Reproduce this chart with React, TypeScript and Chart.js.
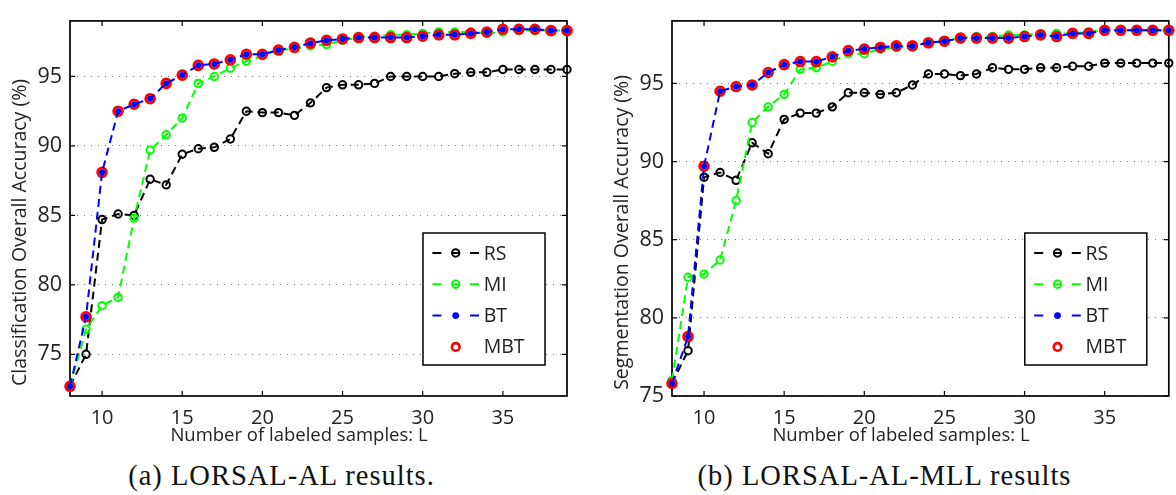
import { useEffect, useRef } from "react";
import { Chart, registerables } from "chart.js";

Chart.register(...registerables);

// ---------- data ----------
const samples = [8, 9, 10, 11, 12, 13, 14, 15, 16, 17, 18, 19, 20, 21, 22, 23, 24, 25, 26, 27, 28, 29, 30, 31, 32, 33, 34, 35, 36, 37, 38, 39];

// (a) LORSAL-AL: classification overall accuracy (%)
const alRS = [72.7, 75.0, 84.7, 85.1, 85.0, 87.6, 87.2, 89.4, 89.8, 89.9, 90.5, 92.5, 92.4, 92.4, 92.2, 93.1, 94.2, 94.4, 94.4, 94.5, 95.0, 95.0, 95.0, 95.0, 95.2, 95.3, 95.3, 95.5, 95.5, 95.5, 95.5, 95.5];
const alMI = [72.7, 76.8, 78.5, 79.1, 84.8, 89.7, 90.8, 92.0, 94.5, 95.0, 95.6, 96.1, 96.5, 96.9, 97.0, 97.2, 97.3, 97.6, 97.8, 97.9, 98.0, 98.0, 98.1, 98.2, 98.2, 98.2, 98.1, 98.2, 98.3, 98.3, 98.3, 98.3];
const alBT = [72.7, 77.7, 88.1, 92.5, 93.0, 93.4, 94.5, 95.1, 95.8, 95.9, 96.2, 96.6, 96.6, 96.9, 97.1, 97.4, 97.6, 97.7, 97.8, 97.8, 97.8, 97.8, 97.9, 98.0, 98.0, 98.1, 98.2, 98.4, 98.4, 98.4, 98.3, 98.3];
const alMBT = [72.7, 77.7, 88.1, 92.5, 93.0, 93.4, 94.5, 95.1, 95.8, 95.9, 96.2, 96.6, 96.6, 96.9, 97.1, 97.4, 97.6, 97.7, 97.8, 97.8, 97.8, 97.8, 97.9, 98.0, 98.0, 98.1, 98.2, 98.4, 98.4, 98.4, 98.3, 98.3];

// (b) LORSAL-AL-MLL: segmentation overall accuracy (%)
const mllRS = [75.8, 77.9, 89.0, 89.3, 88.8, 91.2, 90.5, 92.7, 93.1, 93.1, 93.5, 94.4, 94.4, 94.3, 94.4, 94.9, 95.6, 95.6, 95.5, 95.6, 96.0, 95.9, 95.9, 96.0, 96.0, 96.1, 96.1, 96.3, 96.3, 96.3, 96.3, 96.3];
const mllMI = [76.0, 82.6, 82.8, 83.7, 87.5, 92.5, 93.5, 94.3, 95.9, 96.0, 96.4, 96.9, 96.9, 97.2, 97.3, 97.4, 97.6, 97.7, 97.9, 98.0, 98.0, 98.1, 98.1, 98.2, 98.2, 98.2, 98.3, 98.4, 98.4, 98.4, 98.4, 98.4];
const mllBT = [75.8, 78.8, 89.7, 94.5, 94.8, 94.9, 95.7, 96.2, 96.4, 96.4, 96.7, 97.1, 97.2, 97.3, 97.4, 97.4, 97.6, 97.7, 97.9, 97.9, 97.9, 97.9, 98.0, 98.1, 98.0, 98.2, 98.2, 98.4, 98.4, 98.4, 98.4, 98.4];
const mllMBT = [75.8, 78.8, 89.7, 94.5, 94.8, 94.9, 95.7, 96.2, 96.4, 96.4, 96.7, 97.1, 97.2, 97.3, 97.4, 97.4, 97.6, 97.7, 97.9, 97.9, 97.9, 97.9, 98.0, 98.1, 98.0, 98.2, 98.2, 98.4, 98.4, 98.4, 98.4, 98.4];

const seriesNames = ["RS", "MI", "BT", "MBT"];
const xTickValues = [10, 15, 20, 25, 30, 35];
const yTicksA = [75, 80, 85, 90, 95];
const yTicksB = [75, 80, 85, 90, 95];
const xTitle = "Number of labeled samples: L";
const yTitleA = "Classification Overall Accuracy (%)";
const yTitleB = "Segmentation Overall Accuracy (%)";
const captionA = "(a) LORSAL-AL results.";
const captionB = "(b) LORSAL-AL-MLL results";

// ---------- styling ----------
const SANS = '"Open Sans", "Noto Sans", sans-serif';
const TEXT = "#222222";
const BLACK = "#000000";
const GREEN = "#00ff00";
const BLUE = "#0000ff";
const RED = "#ff0000";

type Panel = {
  series: number[][];
  yMin: number;
  yMax: number;
  yTicks: number[];
  yTitle: string;
  width: number;
  height: number;
  yAxisW: number;
  padTop: number;
  padRight: number;
  xAxisH: number;
};

function pts(ys: number[]) {
  return samples.map((x, i) => ({ x, y: ys[i] }));
}

const styles = [
  { color: BLACK, line: true, fill: "rgba(0,0,0,0)", radius: 3.7, bw: 2, order: 4 },
  { color: GREEN, line: true, fill: "rgba(0,0,0,0)", radius: 3.7, bw: 2, order: 3 },
  { color: BLUE, line: true, fill: BLUE, radius: 3, bw: 0, order: 1 },
  { color: RED, line: false, fill: "rgba(0,0,0,0)", radius: 4.4, bw: 2.8, order: 2 },
];

function decorPlugin(p: Panel) {
  return {
    id: "matlabDecor",
    beforeDatasetsDraw(chart: any) {
      const { ctx, chartArea: a, scales } = chart;
      const xs = scales.x;
      const ys = scales.y;
      ctx.save();
      ctx.strokeStyle = BLACK;
      ctx.lineWidth = 1.2;
      ctx.beginPath();
      for (const v of xTickValues) {
        const px = xs.getPixelForValue(v);
        ctx.moveTo(px, a.bottom);
        ctx.lineTo(px, a.bottom - 5);
        ctx.moveTo(px, a.top);
        ctx.lineTo(px, a.top + 5);
      }
      for (const v of p.yTicks) {
        const py = ys.getPixelForValue(v);
        ctx.moveTo(a.left, py);
        ctx.lineTo(a.left + 5, py);
        ctx.moveTo(a.right, py);
        ctx.lineTo(a.right - 5, py);
      }
      ctx.stroke();
      ctx.lineWidth = 1.7;
      ctx.strokeRect(a.left, a.top, a.right - a.left, a.bottom - a.top);

      // axis titles
      ctx.fillStyle = TEXT;
      ctx.font = `18.5px ${SANS}`;
      ctx.textAlign = "center";
      ctx.textBaseline = "alphabetic";
      ctx.fillText(xTitle, a.left + 229, a.bottom + 44.5);
      ctx.save();
      ctx.translate(a.left - 44, (a.top + a.bottom) / 2 + 24);
      ctx.rotate(-Math.PI / 2);
      ctx.font = `19.5px ${SANS}`;
      ctx.fillText(p.yTitle, 0, 0);
      ctx.restore();
      ctx.restore();
    },
    afterDatasetsDraw(chart: any) {
      const { ctx, chartArea: a } = chart;
      const w = 122;
      const h = 132;
      const bx = a.right - 22 - w;
      const by = a.bottom - 31 - h;
      ctx.save();
      ctx.fillStyle = "#ffffff";
      ctx.fillRect(bx, by, w, h);
      ctx.strokeStyle = BLACK;
      ctx.lineWidth = 1.5;
      ctx.strokeRect(bx, by, w, h);
      chart.data.datasets.forEach((ds: any, i: number) => {
        const st = styles[i];
        const cy = by + 20 + i * 31.3;
        const mx = bx + 32.7;
        ctx.strokeStyle = st.color;
        if (st.line) {
          ctx.lineWidth = 2;
          ctx.beginPath();
          ctx.moveTo(bx + 9.4, cy);
          ctx.lineTo(bx + 18.4, cy);
          ctx.moveTo(bx + 47, cy);
          ctx.lineTo(bx + 56, cy);
          if (st.bw > 0) {
            ctx.moveTo(mx - 4, cy);
            ctx.lineTo(mx + 4, cy);
          }
          ctx.stroke();
        }
        ctx.beginPath();
        ctx.arc(mx, cy, st.bw > 0 ? Math.min(st.radius, 3.8) : 3.4, 0, Math.PI * 2);
        if (st.bw > 0) {
          ctx.lineWidth = st.line ? 2 : 2.6;
          ctx.stroke();
        } else {
          ctx.fillStyle = st.color;
          ctx.fill();
        }
        ctx.fillStyle = TEXT;
        ctx.font = `19.5px ${SANS}`;
        ctx.textAlign = "left";
        ctx.textBaseline = "middle";
        ctx.fillText(ds.label, bx + 60.7, cy + 1);
      });
      ctx.restore();
    },
  };
}

function makeConfig(p: Panel): any {
  return {
    type: "line",
    data: {
      datasets: p.series.map((ys, i) => {
        const st = styles[i];
        return {
          label: seriesNames[i],
          data: pts(ys),
          showLine: st.line,
          borderColor: st.color,
          borderWidth: 2,
          borderDash: [8, 5],
          backgroundColor: st.fill,
          pointRadius: st.radius,
          pointBorderWidth: st.bw,
          pointBorderColor: st.color,
          pointBackgroundColor: st.fill,
          pointStyle: "circle",
          tension: 0,
          clip: false,
          order: st.order,
        };
      }),
    },
    options: {
      responsive: false,
      animation: false,
      events: [],
      layout: { padding: { top: p.padTop, right: p.padRight, left: 0, bottom: 0 } },
      plugins: { legend: { display: false }, tooltip: { enabled: false }, title: { display: false } },
      scales: {
        x: {
          type: "linear",
          min: 8,
          max: 39,
          afterBuildTicks: (s: any) => {
            s.ticks = xTickValues.map((v) => ({ value: v }));
          },
          afterFit: (s: any) => {
            s.height = p.xAxisH;
          },
          grid: { display: false, drawTicks: false },
          border: { display: false },
          ticks: { font: { family: SANS, size: 20 }, color: TEXT, padding: 10, maxRotation: 0, autoSkip: false },
        },
        y: {
          type: "linear",
          min: p.yMin,
          max: p.yMax,
          afterBuildTicks: (s: any) => {
            s.ticks = p.yTicks.map((v) => ({ value: v }));
          },
          afterFit: (s: any) => {
            s.width = p.yAxisW;
          },
          grid: { color: "#7a7a7a", lineWidth: 1, drawTicks: false },
          border: { display: false, dash: [1, 6] },
          ticks: { font: { family: SANS, size: 21.5 }, color: TEXT, padding: 8 },
        },
      },
    },
    plugins: [decorPlugin(p)],
  };
}

function Panel({ panel, left }: { panel: Panel; left: number }) {
  const ref = useRef<HTMLCanvasElement | null>(null);
  useEffect(() => {
    if (!ref.current) return;
    const chart = new Chart(ref.current, makeConfig(panel));
    return () => chart.destroy();
  }, [panel]);
  return (
    <canvas
      ref={ref}
      width={panel.width}
      height={panel.height}
      style={{ position: "absolute", left, top: 0, width: panel.width, height: panel.height }}
    />
  );
}

const panelA: Panel = {
  series: [alRS, alMI, alBT, alMBT],
  yMin: 72,
  yMax: 99,
  yTicks: yTicksA,
  yTitle: yTitleA,
  width: 588,
  height: 452,
  yAxisW: 70,
  padTop: 5,
  padRight: 21,
  xAxisH: 56,
};

const panelB: Panel = {
  series: [mllRS, mllMI, mllBT, mllMBT],
  yMin: 75,
  yMax: 99,
  yTicks: yTicksB,
  yTitle: yTitleB,
  width: 586,
  height: 452,
  yAxisW: 82,
  padTop: 7,
  padRight: 7,
  xAxisH: 56,
};

const captionStyle = (center: number): any => ({
  position: "absolute",
  left: center - 300,
  width: 600,
  top: 460.8,
  textAlign: "center",
  fontFamily: '"Liberation Serif", "Times New Roman", serif',
  fontSize: 28.5,
  lineHeight: "30px",
  letterSpacing: "1px",
  color: "#111",
  whiteSpace: "nowrap",
});

export default function App() {
  return (
    <div style={{ position: "absolute", left: 0, top: 0, width: 1176, height: 495, background: "#fff", overflow: "hidden" }}>
      <Panel panel={panelA} left={0} />
      <Panel panel={panelB} left={590} />
      <div style={captionStyle(281.5)}>{captionA}</div>
      <div style={captionStyle(884.5)}>{captionB}</div>
    </div>
  );
}
